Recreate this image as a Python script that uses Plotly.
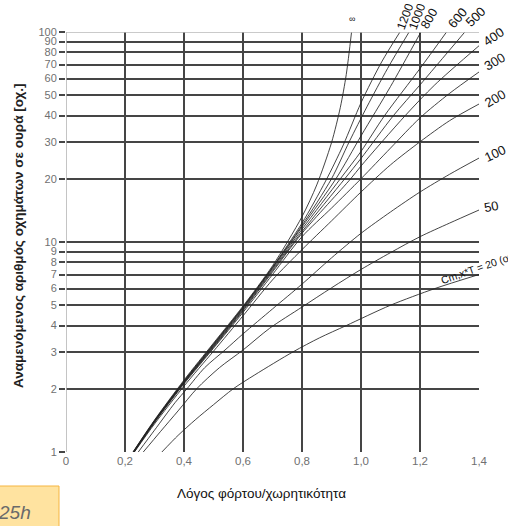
import plotly.graph_objects as go

# ---- data ----
x_tick_vals = [0, 0.2, 0.4, 0.6, 0.8, 1.0, 1.2, 1.4]
x_tick_text = ["0", "0,2", "0,4", "0,6", "0,8", "1,0", "1,2", "1,4"]
y_tick_vals = [1, 2, 3, 4, 5, 6, 7, 8, 9, 10, 20, 30, 40, 50, 60, 70, 80, 90, 100]
y_tick_text = [str(v) for v in y_tick_vals]

curve_names = ["∞", "1200", "1000", "800", "600", "500", "400", "300", "200", "100", "50", "20"]

x_inf = [0.227, 0.3, 0.4, 0.5, 0.6, 0.7, 0.8, 0.85, 0.9, 0.93, 0.95, 0.968]
y_inf = [1.0, 1.42, 2.2, 3.3, 4.95, 7.7, 13.2, 18.7, 29.7, 43.8, 62.7, 100]

x_1200 = [0.228, 0.3, 0.4, 0.5, 0.6, 0.7, 0.8, 0.88, 0.94, 1.0, 1.07, 1.132]
y_1200 = [1.0, 1.41, 2.18, 3.27, 4.9, 7.6, 12.3, 19.5, 29, 46, 72, 100]

x_1000 = [0.228, 0.3, 0.4, 0.5, 0.6, 0.7, 0.8, 0.9, 0.96, 1.02, 1.09, 1.163]
y_1000 = [1.0, 1.41, 2.17, 3.25, 4.88, 7.55, 12.0, 20, 30, 44, 67, 100]

x_800 = [0.229, 0.3, 0.4, 0.5, 0.6, 0.7, 0.8, 0.915, 1.0, 1.1, 1.203]
y_800 = [1.0, 1.4, 2.16, 3.23, 4.85, 7.5, 11.8, 20, 32, 55, 100]

x_600 = [0.229, 0.3, 0.4, 0.5, 0.6, 0.7, 0.8, 0.93, 1.0, 1.08, 1.2, 1.29]
y_600 = [1.0, 1.4, 2.15, 3.2, 4.8, 7.4, 11.5, 20, 27, 40, 67, 100]

x_500 = [0.23, 0.3, 0.4, 0.5, 0.6, 0.7, 0.8, 0.945, 1.0, 1.11, 1.2, 1.352]
y_500 = [1.0, 1.39, 2.14, 3.18, 4.75, 7.3, 11.2, 20, 25, 40, 56, 100]

x_400 = [0.23, 0.3, 0.4, 0.5, 0.6, 0.7, 0.8, 0.965, 1.0, 1.15, 1.25, 1.4]
y_400 = [1.0, 1.39, 2.13, 3.15, 4.7, 7.2, 11.0, 20, 23, 40, 56, 86]

x_300 = [0.231, 0.3, 0.4, 0.5, 0.6, 0.7, 0.8, 0.9, 1.0, 1.1, 1.2, 1.3, 1.4]
y_300 = [1.0, 1.38, 2.11, 3.12, 4.62, 7.0, 10.6, 14.5, 20, 28, 39, 51, 64.5]

x_200 = [0.232, 0.3, 0.4, 0.5, 0.6, 0.7, 0.8, 0.9, 1.0, 1.1, 1.2, 1.3, 1.4]
y_200 = [1.0, 1.36, 2.06, 3.02, 4.45, 6.6, 9.2, 12.6, 17.3, 23.3, 30, 37.8, 45.4]

x_100 = [0.245, 0.3, 0.37, 0.41, 0.47, 0.539, 0.6, 0.7, 0.8, 0.9, 1.0, 1.1, 1.2, 1.3, 1.4]
y_100 = [1.0, 1.27, 1.72, 2.0, 2.52, 3.06, 3.65, 4.8, 6.3, 8.4, 11.0, 13.9, 17.3, 21.0, 25.1]

x_50 = [0.262, 0.32, 0.38, 0.443, 0.52, 0.6, 0.69, 0.8, 0.9, 1.0, 1.1, 1.2, 1.3, 1.4]
y_50 = [1.0, 1.25, 1.57, 2.0, 2.52, 3.06, 3.88, 4.9, 6.05, 7.4, 8.9, 10.6, 12.3, 14.2]

x_20 = [0.325, 0.38, 0.44, 0.5, 0.567, 0.64, 0.77, 0.86, 0.95, 1.1, 1.25, 1.4]
y_20 = [1.0, 1.2, 1.43, 1.68, 2.0, 2.33, 3.0, 3.5, 4.0, 5.0, 6.0, 7.0]

curves_x = [x_inf, x_1200, x_1000, x_800, x_600, x_500, x_400, x_300, x_200, x_100, x_50, x_20]
curves_y = [y_inf, y_1200, y_1000, y_800, y_600, y_500, y_400, y_300, y_200, y_100, y_50, y_20]

# ---- layout helpers (pixel -> paper) ----
W, H = 508, 526
L, R, T, B = 66, 29, 32, 74
PW, PH = W - L - R, H - T - B


def px(xp):
    return (xp - L) / PW


def py(yp):
    return (H - B - yp) / PH


fig = go.Figure()
for name, xs, ys in zip(curve_names, curves_x, curves_y):
    fig.add_trace(go.Scatter(
        x=xs, y=ys, mode="lines", name=name,
        line=dict(color="rgba(35,35,35,0.85)", width=1, shape="spline", smoothing=0.8),
        hoverinfo="skip", showlegend=False,
    ))

GRID = "#454545"
fig.update_layout(
    width=W, height=H,
    margin=dict(l=L, r=R, t=T, b=B),
    paper_bgcolor="white", plot_bgcolor="white",
    font=dict(family="Liberation Sans, Arial, sans-serif"),
    showlegend=False,
    xaxis=dict(
        range=[0, 1.4], tickvals=x_tick_vals, ticktext=x_tick_text,
        showgrid=True, gridcolor=GRID, gridwidth=1.5, zeroline=False,
        showline=False, ticks="", tickfont=dict(size=11.5, color="#707070"),
        fixedrange=True,
    ),
    yaxis=dict(
        type="log", range=[0, 2], tickvals=y_tick_vals, ticktext=y_tick_text,
        showgrid=True, gridcolor=GRID, gridwidth=1.5, zeroline=False,
        showline=False, ticks="outside", ticklen=6, tickcolor=GRID, tickwidth=1.5,
        tickfont=dict(size=11, color="#707070"), fixedrange=True,
    ),
)

# light axis line at x=0 and light frame line at y=100
fig.add_shape(type="line", xref="x", yref="paper", x0=0, x1=0, y0=0, y1=1,
              line=dict(color="#b0b0b0", width=1.5), layer="above")
fig.add_shape(type="line", xref="paper", yref="y", x0=0, x1=1, y0=100, y1=100,
              line=dict(color="#b8b8b8", width=1.5), layer="above")

# axis titles
fig.add_annotation(text="Λόγος φόρτου/χωρητικότητα", xref="paper", yref="paper",
                   x=px(261), y=py(493), xanchor="center", yanchor="middle",
                   showarrow=False, font=dict(size=13.5, color="#111"))
fig.add_annotation(text="<b>Αναμενόμενος αριθμός οχημάτων σε ουρά [οχ.]</b>",
                   xref="paper", yref="paper", x=px(18), y=py(236), textangle=-90,
                   xanchor="center", yanchor="middle",
                   showarrow=False, font=dict(size=13.5, color="#222"))

# curve labels
labels = [
    ("∞", 352, 19, 0, 9),
    ("1200", 405, 17, -70, 12),
    ("1000", 417, 17, -70, 12),
    ("800", 429, 19, -60, 12.5),
    ("600", 458, 18, -50, 13),
    ("500", 476, 17, -45, 13),
    ("400", 494, 37, -35, 13),
    ("300", 495, 62, -30, 13),
    ("200", 495, 98, -30, 13),
    ("100", 495, 153, -25, 13),
    ("50", 491, 206, -10, 13),
    ("Cm,x*T = 20 (οχ.)", 480, 267, -19, 10.5),
]
for txt, xp_, yp_, ang, sz in labels:
    fig.add_annotation(text=txt, xref="paper", yref="paper", x=px(xp_), y=py(yp_),
                       xanchor="center", yanchor="middle",
                       textangle=ang, showarrow=False,
                       font=dict(size=sz, color="#111"))

# "25h" box in the lower left corner
fig.add_shape(type="rect", xref="paper", yref="paper",
              x0=px(-2), x1=px(59), y0=py(528), y1=py(486),
              fillcolor="#FFE3A0", line=dict(color="#F5B540", width=1), layer="above")
fig.add_annotation(text="<i>25h</i>", xref="paper", yref="paper", x=px(33), y=py(512),
                   xanchor="right", yanchor="middle", showarrow=False,
                   font=dict(size=19, color="#6a6a6a"))

fig.write_html("out.html")
